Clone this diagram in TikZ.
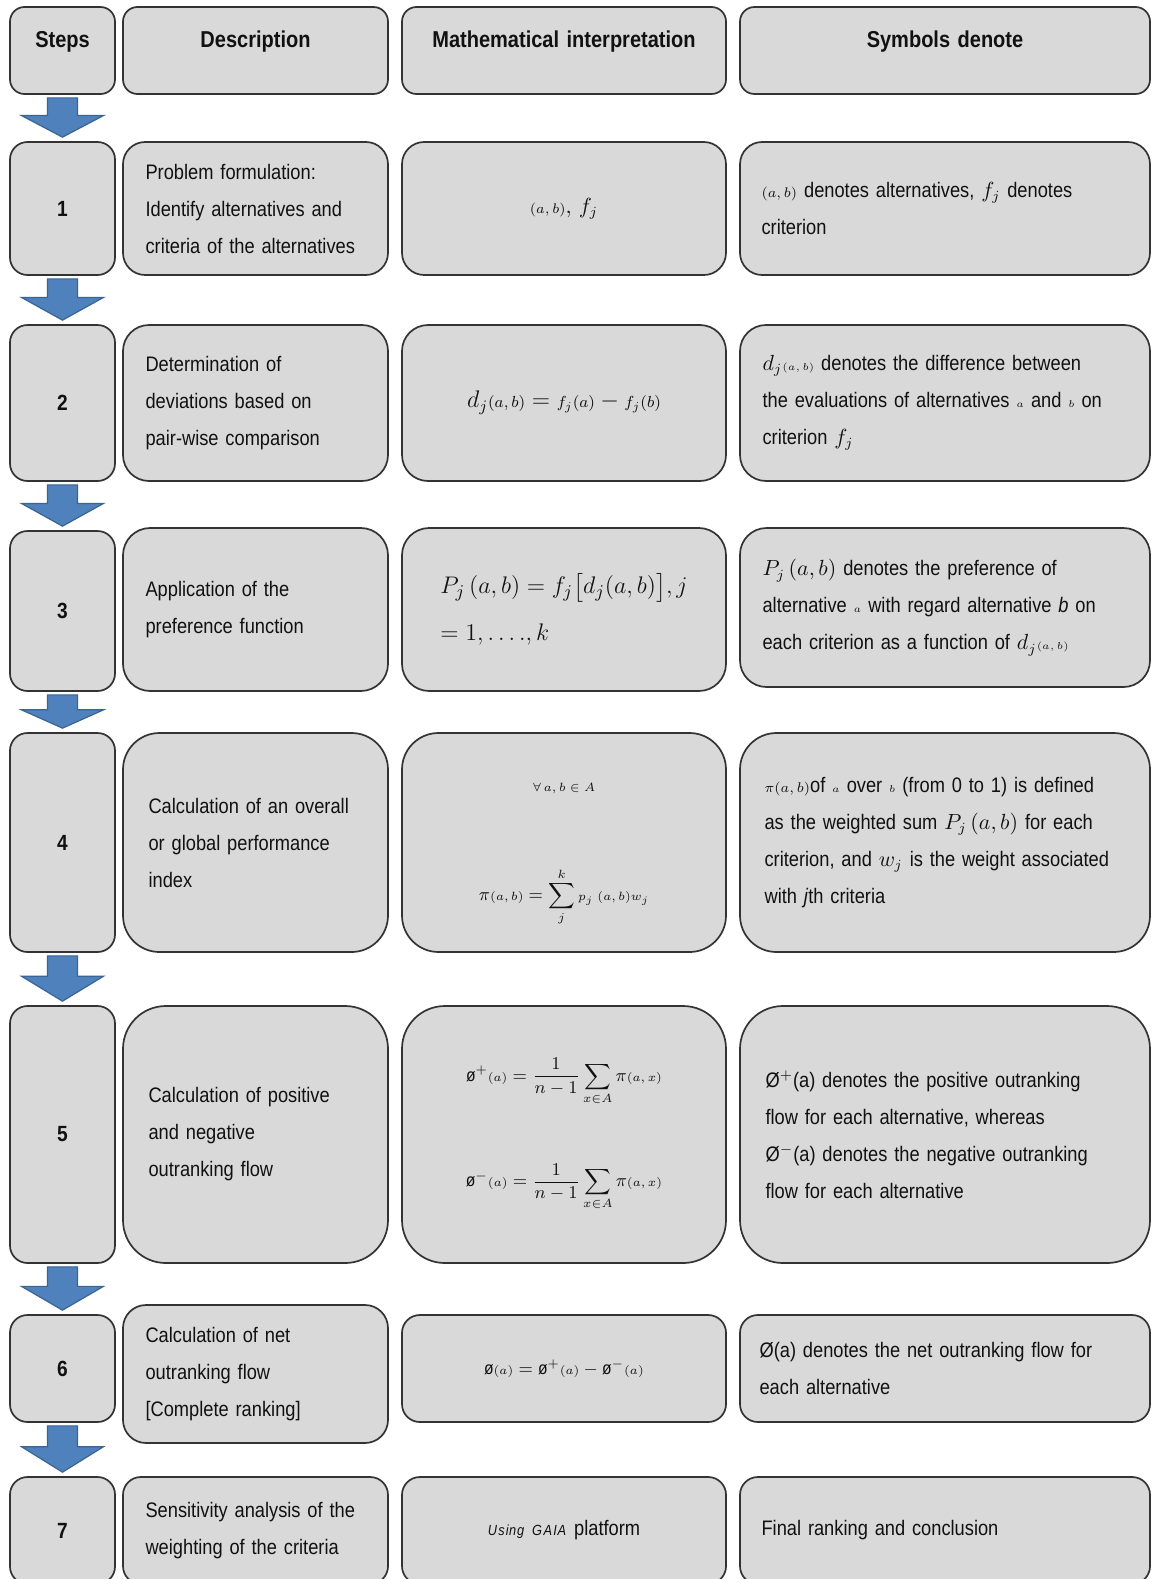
\documentclass[tikz,border=0pt]{standalone}
\usepackage{amsmath}
\usepackage{fontspec}
\setmainfont{Liberation Sans}[FakeStretch=0.87, WordSpace=1.35]
\usetikzlibrary{calc}
\definecolor{boxfill}{HTML}{D9D9D9}
\definecolor{boxline}{HTML}{333333}
\definecolor{arrfill}{HTML}{4F81BD}
\definecolor{arrline}{HTML}{3A6491}
\definecolor{txtcol}{HTML}{111111}

% rounded box from (x1,y1) to (x2,y2), in pixels
\newcommand\RB[7]{%
  \pgfmathsetmacro\rbw{(#4-#2)*0.5}%
  \pgfmathsetmacro\rbh{(#5-#3)*0.5}%
  \pgfmathsetmacro\rbr{min(\rbw,\rbh)/6}%
  \node[box, minimum width=\rbw pt, minimum height=\rbh pt,
        rounded corners=\rbr pt, #6] (#1) at ({(#2+#4)/2},{(#3+#5)/2}) {#7};}

% block arrow between two step boxes
\newcommand\BA[2]{%
  \draw[blkarrow] let \p1=(#1.south), \p2=(#2.north),
     \n1={\y1-1.5pt}, \n2={\y2+2pt}, \n3={\n1-0.45*(\n1-\n2)} in
     (\x1-7.5pt,\n1) -- (\x1+7.5pt,\n1) -- (\x1+7.5pt,\n3) -- (\x1+20.5pt,\n3)
     -- (\x1,\n2) -- (\x1-20.5pt,\n3) -- (\x1-7.5pt,\n3) -- cycle;}

\begin{document}
\begin{tikzpicture}[x=0.5pt,y=-0.5pt,
  box/.style={draw=boxline, fill=boxfill, line width=0.85pt, inner sep=0pt,
     text=txtcol, align=center, font=\fontsize{10.5}{18.5}\selectfont},
  stepnum/.style={font=\fontsize{11}{13}\selectfont\bfseries},
  hdr/.style={anchor=base, inner sep=0pt, text=txtcol,
     font=\fontsize{11.5}{13}\selectfont\bfseries},
  txt/.style={anchor=west, inner sep=0pt, align=left, text=txtcol,
     font=\fontsize{10.5}{18.5}\selectfont},
  blkarrow/.style={fill=arrfill, draw=arrline, line width=0.6pt, line join=miter}]

\useasboundingbox (0,0) rectangle (1151,1579);
\fill[white] (0,0) rectangle (1151,1579);
\clip (0,0) rectangle (1151,1579);

% ---------- header ----------
\RB{s0}{10}{7}{115}{94}{}{}
\RB{d0}{123}{7}{388}{94}{}{}
\RB{m0}{402}{7}{726}{94}{}{}
\RB{y0}{740}{7}{1150}{94}{}{}
\node[hdr] (s0t) at ([yshift=-20.5pt]s0.north) {Steps};
\node[hdr] (d0t) at ([yshift=-20.5pt]d0.north) {Description};
\node[hdr] (m0t) at ([yshift=-20.5pt]m0.north) {Mathematical interpretation};
\node[hdr] (y0t) at ([yshift=-20.5pt]y0.north) {Symbols denote};

% ---------- row 1 ----------
\RB{s1}{10}{142}{115}{275}{stepnum}{1}
\RB{d1}{123}{142}{388}{275}{}{}
\RB{m1}{402}{142}{726}{275}{}{${\scriptstyle(a,\,b)},\,f_j$}
\RB{y1}{740}{142}{1150}{275}{}{}
\node[txt] (d1t) at ([xshift=11.5pt]d1.west) {Problem formulation:\\Identify alternatives and\\criteria of the alternatives};
\node[txt] (y1t) at ([xshift=11pt]y1.west) {${\scriptstyle(a,\,b)}$ denotes alternatives, $f_j$ denotes\\criterion};

% ---------- row 2 ----------
\RB{s2}{10}{325}{115}{481}{stepnum}{2}
\RB{d2}{123}{325}{388}{481}{}{}
\RB{m2}{402}{325}{726}{481}{font=\fontsize{12}{14}\selectfont}{$d_{j}{\scriptstyle(a,\,b)} = {\scriptstyle f_j(a)} - {\scriptstyle f_j(b)}$}
\RB{y2}{740}{325}{1150}{481}{}{}
\node[txt] (d2t) at ([xshift=11.5pt]d2.west) {Determination of\\deviations based on\\pair-wise comparison};
\node[txt] (y2t) at ([xshift=11.5pt]y2.west) {$d_{j}{\scriptscriptstyle(a,\,b)}$ denotes the difference between\\the evaluations of alternatives ${\scriptscriptstyle a}$ and ${\scriptscriptstyle b}$ on\\criterion $f_j$};

% ---------- row 3 ----------
\RB{s3}{10}{531}{115}{691}{stepnum}{3}
\RB{d3}{123}{528}{388}{691}{}{}
\RB{m3}{402}{528}{726}{691}{align=left, font=\fontsize{13}{23.5}\selectfont}{$P_j\,(a,b) = f_j\big[d_j(a,b)\big], j$\\$= 1, \dots., k$}
\RB{y3}{740}{528}{1150}{687}{}{}
\node[txt] (d3t) at ([xshift=11.5pt]d3.west) {Application of the\\preference function};
\node[txt] (y3t) at ([xshift=11.5pt]y3.west) {$P_j\,(a,b)$ denotes the preference of\\alternative ${\scriptscriptstyle a}$ with regard alternative \textit{b} on\\each criterion as a function of $d_{j}{\scriptscriptstyle(a,\,b)}$};

% ---------- row 4 ----------
\RB{s4}{10}{733}{115}{952}{stepnum}{4}
\RB{d4}{123}{733}{388}{952}{}{}
\RB{m4}{402}{733}{726}{952}{font=\fontsize{9}{11}\selectfont}{\rule{0pt}{16pt}${\scriptstyle\forall\, a,\,b\;\in\; A}$\\[36pt]$\pi{\scriptstyle(a,\,b)} = \displaystyle\sum_{j}^{k}{\scriptstyle p_j\;(a,\,b) w_j}$}
\RB{y4}{740}{733}{1150}{952}{}{}
\node[txt] (d4t) at ([xshift=13pt]d4.west) {Calculation of an overall\\or global performance\\index};
\node[txt] (y4t) at ([xshift=12.5pt]y4.west) {${\scriptstyle\pi(a,\,b)}$of ${\scriptscriptstyle a}$ over ${\scriptscriptstyle b}$ (from 0 to 1) is defined\\as the weighted sum $P_j\,(a,b)$ for each\\criterion, and $w_j$ is the weight associated\\with \textit{j}th criteria};

% ---------- row 5 ----------
\RB{s5}{10}{1006}{115}{1263}{stepnum}{5}
\RB{d5}{123}{1006}{388}{1263}{}{}
\RB{m5}{402}{1006}{726}{1263}{font=\fontsize{9}{11}\selectfont}{${\text{\o}}^{+}{\scriptstyle(a)} = \dfrac{1}{n-1}\displaystyle\sum_{x\in A}\pi{\scriptstyle(a,\,x)}$\\[28pt]${\text{\o}}^{-}{\scriptstyle(a)} = \dfrac{1}{n-1}\displaystyle\sum_{x\in A}\pi{\scriptstyle(a,\,x)}$}
\RB{y5}{740}{1006}{1150}{1263}{}{}
\node[txt] (d5t) at ([xshift=13pt]d5.west) {Calculation of positive\\and negative\\outranking flow};
\node[txt] (y5t) at ([xshift=13pt]y5.west) {Ø$^{+}$(a) denotes the positive outranking\\flow for each alternative, whereas\\Ø$^{-}$(a) denotes the negative outranking\\flow for each alternative};

% ---------- row 6 ----------
\RB{s6}{10}{1315}{115}{1422}{stepnum}{6}
\RB{d6}{123}{1305}{388}{1443}{}{}
\RB{m6}{402}{1315}{726}{1422}{font=\fontsize{9}{11}\selectfont}{$\text{\o}{\scriptstyle(a)} = \text{\o}^{+}{\scriptstyle(a)} - \text{\o}^{-}{\scriptstyle(a)}$}
\RB{y6}{740}{1315}{1150}{1422}{}{}
\node[txt] (d6t) at ([xshift=11.5pt]d6.west) {Calculation of net\\outranking flow\\{[}Complete ranking{]}};
\node[txt] (y6t) at ([xshift=10pt]y6.west) {Ø(a) denotes the net outranking flow for\\each alternative};

% ---------- row 7 ----------
\RB{s7}{10}{1477}{115}{1584}{stepnum}{7}
\RB{d7}{123}{1477}{388}{1584}{}{}
\RB{m7}{402}{1477}{726}{1584}{}{${\scriptstyle \mathit{Using\ GAIA}}$ platform}
\RB{y7}{740}{1477}{1150}{1584}{}{}
\node[txt] (d7t) at ([xshift=11.5pt]d7.west) {Sensitivity analysis of the\\weighting of the criteria};
\node[txt] (y7t) at ([xshift=11pt]y7.west) {Final ranking and conclusion};

% ---------- arrows ----------
\BA{s0}{s1}
\BA{s1}{s2}
\BA{s2}{s3}
\BA{s3}{s4}
\BA{s4}{s5}
\BA{s5}{s6}
\BA{s6}{s7}
\end{tikzpicture}
\end{document}
